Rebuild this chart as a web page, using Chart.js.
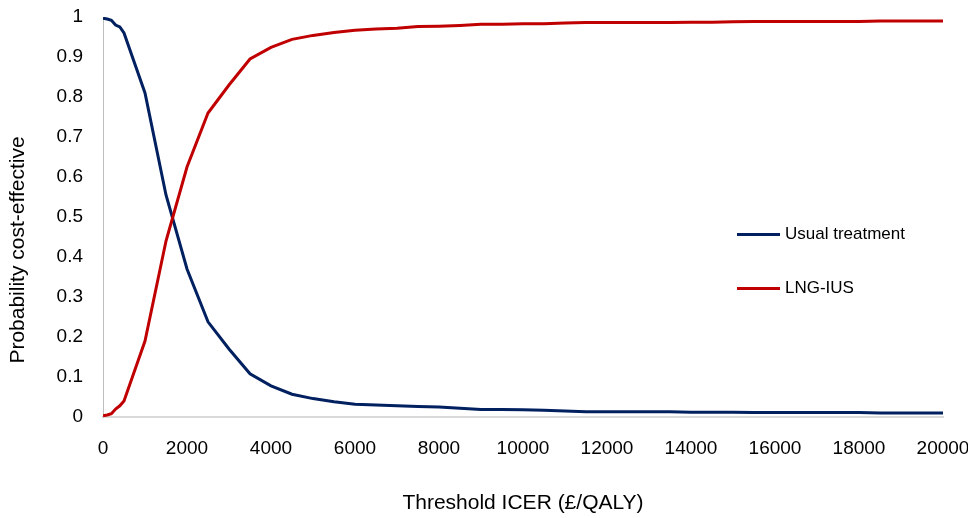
<!DOCTYPE html>
<html>
<head>
<meta charset="utf-8">
<script src="https://cdn.jsdelivr.net/npm/chart.js@4"></script>
<style>
html,body{margin:0;padding:0;background:#fff;}
#wrap{width:968px;height:518px;position:relative;}
</style>
</head>
<body>
<div id="wrap"><canvas id="c" width="968" height="518"></canvas></div>
<script>
const thresholds = [0,100,200,300,400,500,1000,1500,2000,2500,3000,3500,4000,4500,5000,5500,6000,6500,7000,7500,8000,8500,9000,9500,10000,10500,11000,11500,12000,12500,13000,13500,14000,14500,15000,15500,16000,16500,17000,17500,18000,18500,19000,19500,20000];
const usualTreatment = [0.997,0.995,0.992,0.980,0.975,0.960,0.810,0.555,0.370,0.238,0.170,0.108,0.078,0.057,0.046,0.038,0.032,0.030,0.028,0.026,0.025,0.022,0.019,0.019,0.018,0.017,0.015,0.013,0.013,0.013,0.013,0.013,0.012,0.012,0.012,0.011,0.011,0.011,0.011,0.011,0.011,0.010,0.010,0.010,0.010];
const lngIus = [0.003,0.005,0.008,0.020,0.028,0.040,0.190,0.440,0.625,0.760,0.830,0.895,0.924,0.944,0.954,0.961,0.967,0.970,0.972,0.976,0.977,0.979,0.982,0.982,0.983,0.983,0.985,0.986,0.986,0.986,0.986,0.986,0.987,0.987,0.988,0.989,0.989,0.989,0.989,0.989,0.989,0.990,0.990,0.990,0.990];
const seriesNames = ["Usual treatment","LNG-IUS"];
const seriesColors = ["#002060","#C00000"];
const xTitle = "Threshold ICER (£/QALY)";
const yTitle = "Probability cost-effective";

const toPoints = (vals) => thresholds.map((t,i)=>({x:t,y:vals[i]}));

const legendPlugin = {
  id:'insideLegend',
  afterDraw(chart){
    const ctx = chart.ctx;
    const rows = [234.5, 288.5];
    chart.data.datasets.forEach((ds,i)=>{
      const y = rows[i];
      ctx.save();
      ctx.strokeStyle = ds.borderColor;
      ctx.lineWidth = 3;
      ctx.beginPath();
      ctx.moveTo(737,y);
      ctx.lineTo(780,y);
      ctx.stroke();
      ctx.fillStyle = '#000';
      ctx.font = '17px "Liberation Sans", Arial, sans-serif';
      ctx.textBaseline = 'middle';
      ctx.textAlign = 'left';
      ctx.fillText(ds.label, 785, y);
      ctx.restore();
    });
    // y axis title (offset below centre, as in the original)
    ctx.save();
    ctx.translate(18, 250);
    ctx.rotate(-Math.PI/2);
    ctx.fillStyle = '#000';
    ctx.font = '21px "Liberation Sans", Arial, sans-serif';
    ctx.textAlign = 'center';
    ctx.textBaseline = 'middle';
    ctx.fillText(yTitle, 0, 0);
    ctx.restore();
  }
};

new Chart(document.getElementById('c'), {
  type:'line',
  data:{
    datasets:[
      {label:seriesNames[0], data:toPoints(usualTreatment), borderColor:seriesColors[0], backgroundColor:seriesColors[0], borderWidth:3, pointRadius:0, tension:0, order:2},
      {label:seriesNames[1], data:toPoints(lngIus), borderColor:seriesColors[1], backgroundColor:seriesColors[1], borderWidth:3, pointRadius:0, tension:0, order:1}
    ]
  },
  options:{
    responsive:false,
    animation:false,
    devicePixelRatio:1,
    layout:{padding:{top:17,right:25,left:0,bottom:0}},
    plugins:{legend:{display:false},tooltip:{enabled:false}},
    scales:{
      x:{
        type:'linear', min:0, max:20000,
        ticks:{stepSize:2000, color:'#000', padding:20, font:{family:'"Liberation Sans", Arial, sans-serif', size:19}, callback:v=>String(v), maxRotation:0, autoSkip:false},
        grid:{drawOnChartArea:false, drawTicks:false},
        border:{display:true, color:'#d9d9d9', width:2},
        title:{display:true, text:xTitle, color:'#000', font:{family:'"Liberation Sans", Arial, sans-serif', size:21}, padding:{top:0,bottom:2}},
        afterFit(s){ s.height = 101; s.paddingLeft = 0; s.paddingRight = 0; }
      },
      y:{
        min:0, max:1,
        ticks:{stepSize:0.1, color:'#000', padding:20, font:{family:'"Liberation Sans", Arial, sans-serif', size:19}, callback:v=>String(Number(v.toFixed(1)))},
        grid:{drawOnChartArea:false, drawTicks:false},
        border:{display:true, color:'#bfbfbf', width:1},
        title:{display:false},
        afterFit(s){ s.width = 103; s.paddingTop = 0; s.paddingBottom = 0; }
      }
    }
  },
  plugins:[legendPlugin]
});
</script>
</body>
</html>
